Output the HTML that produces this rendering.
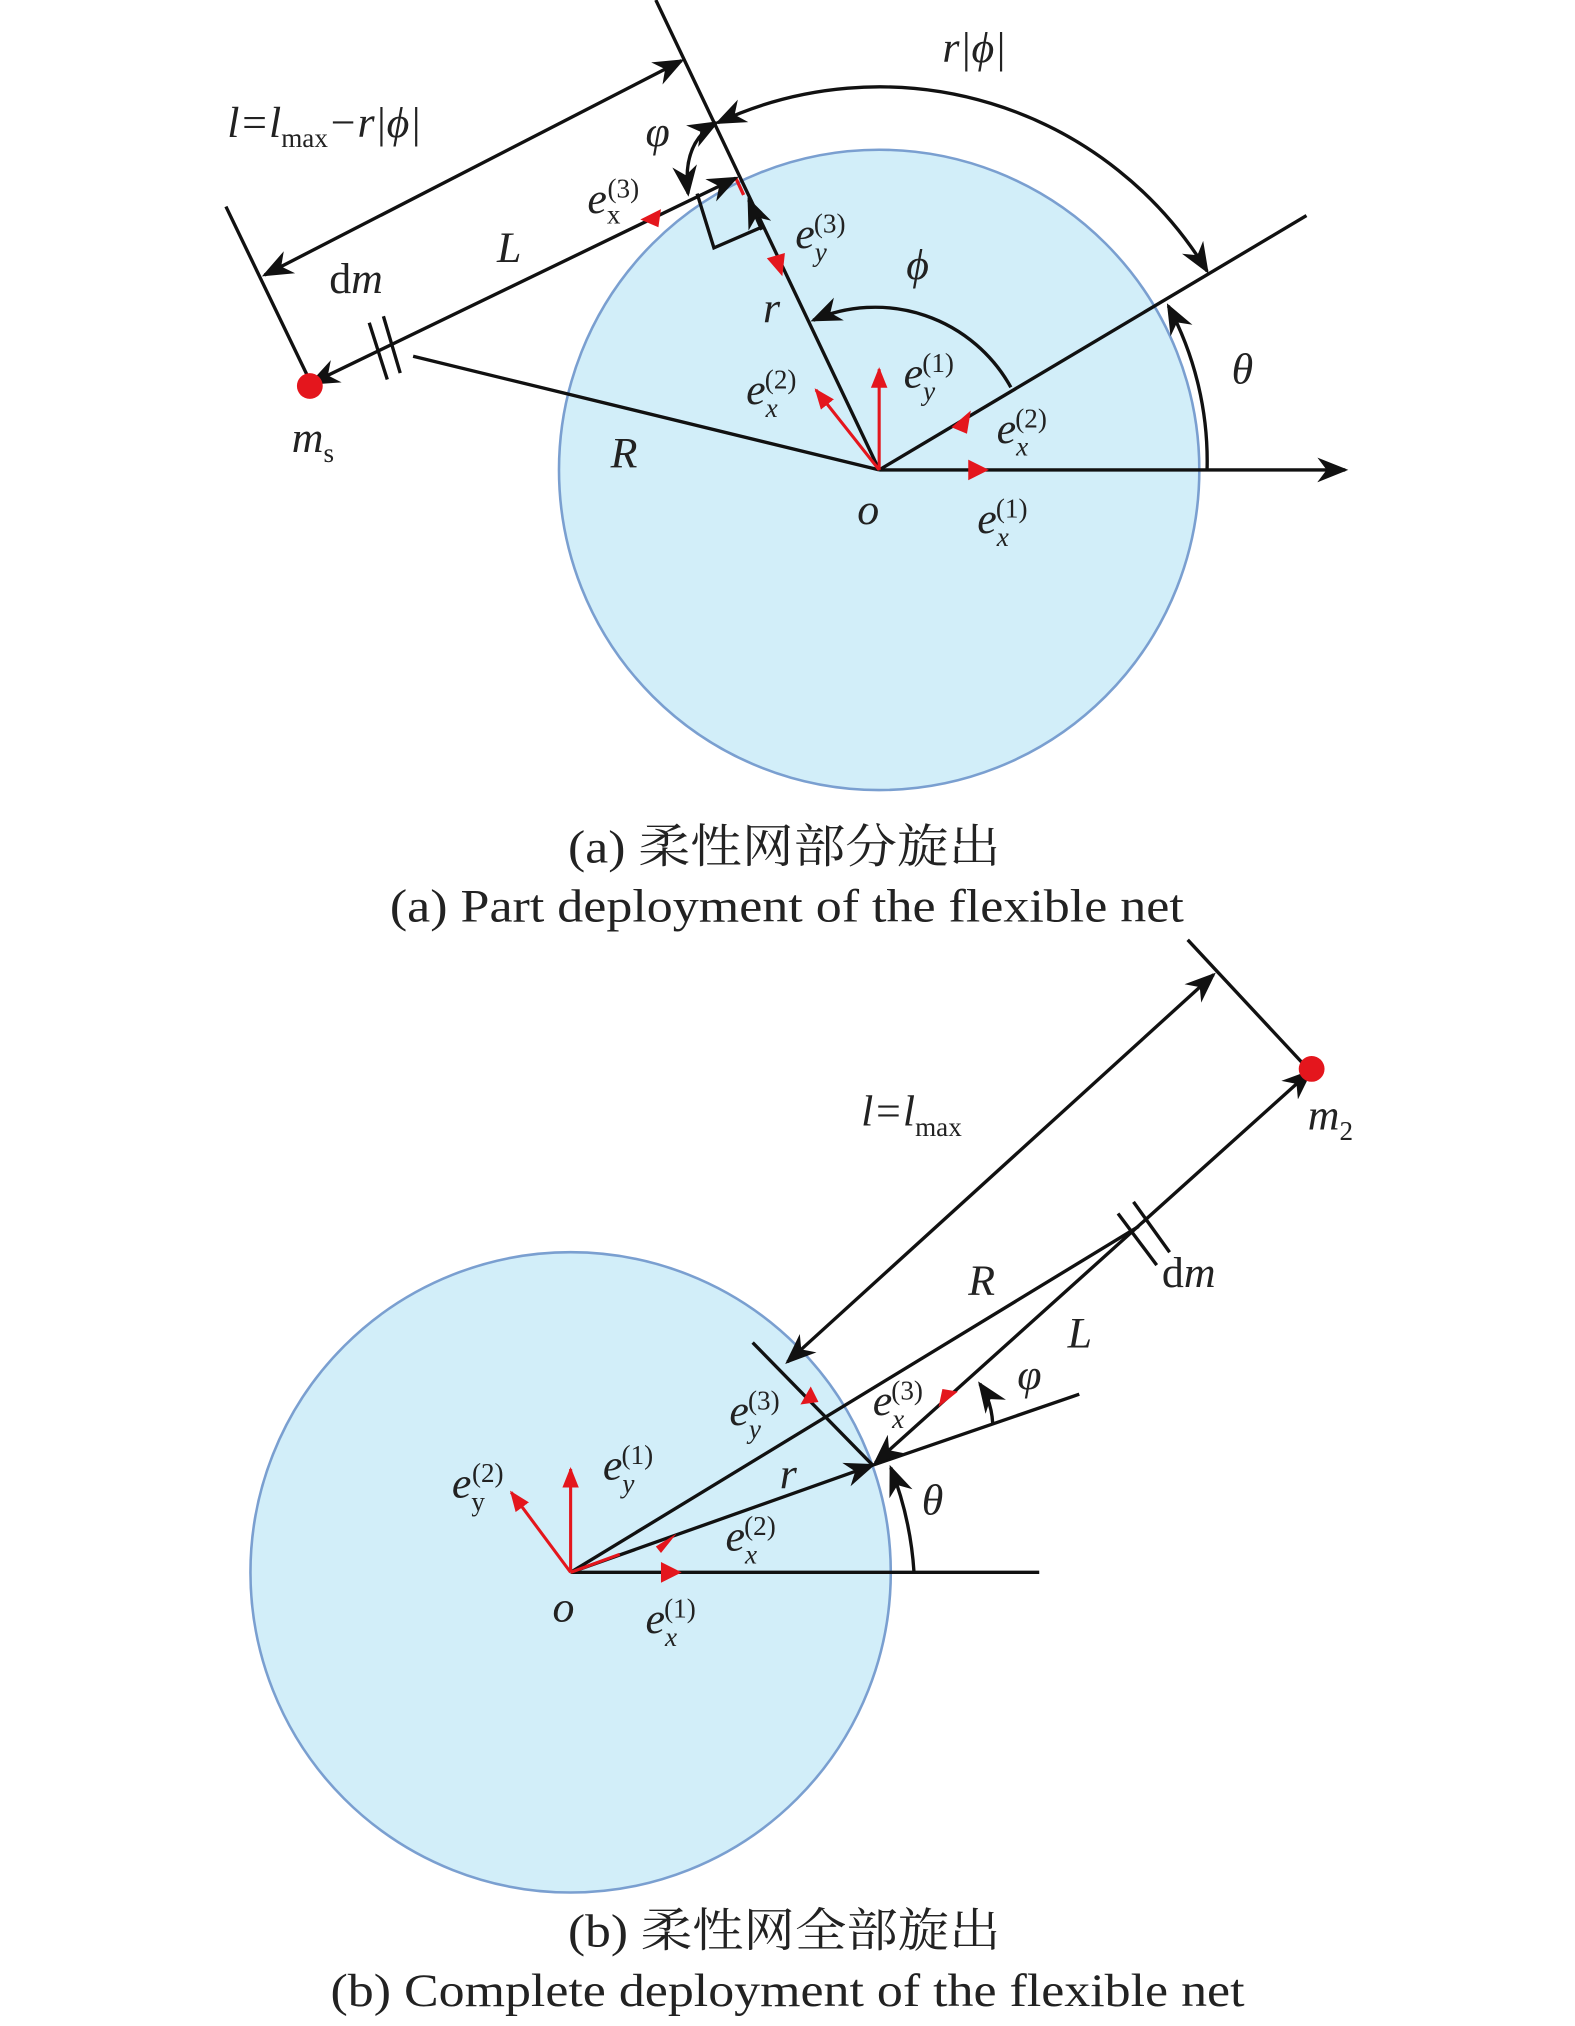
<!DOCTYPE html>
<html><head><meta charset="utf-8"><style>
html,body{margin:0;padding:0;background:#fff;}
svg{display:block;}
text{font-family:"Liberation Serif","Noto Serif CJK SC",serif;fill:#222;}
.i{font-style:italic;}
</style></head><body>
<svg width="1575" height="2026" viewBox="0 0 1220 1569.4" preserveAspectRatio="none" xmlns="http://www.w3.org/2000/svg">
<defs>
<marker id="ab" viewBox="0 0 10 10" refX="9" refY="5" markerWidth="24" markerHeight="24" markerUnits="userSpaceOnUse" orient="auto-start-reverse"><path d="M0,1 L10,5 L0,9 L3,5 z" fill="#111"/></marker>
<marker id="r" viewBox="0 0 10 10" refX="9" refY="5" markerWidth="16" markerHeight="16" markerUnits="userSpaceOnUse" orient="auto"><path d="M0,1 L10,5 L0,9 z" fill="#e4161d"/></marker>
</defs>
<g stroke="#111" stroke-width="2.6" fill="none">
<!-- Part a -->
<circle cx="681" cy="364" r="248" fill="#d2eef9" stroke="#7a9fd0" stroke-width="2"/>
<line x1="681" y1="364" x2="1042" y2="364" marker-end="url(#ab)"/>
<line x1="681" y1="364" x2="1012" y2="167"/>
<line x1="508" y1="0" x2="681" y2="364"/>
<line x1="570" y1="138" x2="576" y2="151" stroke="#e4161d"/>
<line x1="590" y1="178" x2="580" y2="155" marker-end="url(#ab)"/>
<line x1="241" y1="297" x2="570" y2="138" marker-start="url(#ab)" marker-end="url(#ab)"/>
<line x1="320" y1="276" x2="681" y2="364"/>
<line x1="286" y1="250" x2="300" y2="294"/><line x1="297" y1="245" x2="310" y2="289"/>
<line x1="205" y1="213" x2="528" y2="47" marker-start="url(#ab)" marker-end="url(#ab)"/>
<line x1="175" y1="160" x2="241" y2="297"/>
<polyline points="540,150 553,192 590,176"/>
<path d="M935,210 A297,297 0 0 0 556,95" marker-start="url(#ab)" marker-end="url(#ab)"/>
<path d="M555,95 Q528,110 533,150" marker-start="url(#ab)" marker-end="url(#ab)"/>
<path d="M783,300 A120,120 0 0 0 630,248" marker-end="url(#ab)"/>
<path d="M935,364 A255,255 0 0 0 905,237" marker-end="url(#ab)"/>
<!-- Part b -->
<circle cx="442" cy="1218" r="248" fill="#d2eef9" stroke="#7a9fd0" stroke-width="2"/>
<line x1="442" y1="1218" x2="805" y2="1218"/>
<line x1="676" y1="1135" x2="836" y2="1080"/>
<line x1="442" y1="1218" x2="676" y2="1135" marker-end="url(#ab)"/>
<line x1="442" y1="1218" x2="882" y2="950"/>
<line x1="678" y1="1133" x2="1015" y2="830" marker-start="url(#ab)" marker-end="url(#ab)"/>
<line x1="610" y1="1055" x2="940" y2="755" marker-start="url(#ab)" marker-end="url(#ab)"/>
<line x1="583" y1="1040" x2="676" y2="1135"/>
<line x1="920" y1="728" x2="1015" y2="830"/>
<line x1="866" y1="940" x2="896" y2="980"/><line x1="878" y1="931" x2="906" y2="970"/>
<path d="M769,1103 Q768,1085 759,1072" marker-end="url(#ab)"/>
<path d="M708,1218 A268,268 0 0 0 690,1137" marker-end="url(#ab)"/>
</g>
<g stroke="#e4161d" stroke-width="2.4" fill="none">
<line x1="681" y1="364" x2="681" y2="286" marker-end="url(#r)"/>
<line x1="681" y1="364" x2="632" y2="302" marker-end="url(#r)"/>
<line x1="442" y1="1218" x2="442" y2="1138" marker-end="url(#r)"/>
<line x1="442" y1="1218" x2="396" y2="1156" marker-end="url(#r)"/>
<line x1="442" y1="1218" x2="480" y2="1204"/>
</g>
<g fill="#e4161d">
<path d="M750,356 L766,364 L750,372z"/>
<path d="M737,331 L752,318 L749,336z"/>
<path d="M512,162 L496,170 L510,176z"/>
<path d="M594,200 L606,214 L608,196z"/>
<path d="M512,1210 L528,1218 L512,1226z"/>
<path d="M508,1198 L524,1188 L512,1203z"/>
<path d="M620,1088 L628,1074 L634,1086z"/>
<path d="M727,1090 L742,1078 L730,1076z"/>
<circle cx="240" cy="299" r="10"/>
<circle cx="1016" cy="828" r="10"/>
</g>
<!-- labels a -->
<g font-size="34">
<text x="730" y="48" class="i">r|ϕ|</text>
<text x="176" y="106" class="i">l=l<tspan font-style="normal" font-size="21" dy="8">max</tspan><tspan dy="-8">−r|ϕ|</tspan></text>
<text x="500" y="113" class="i">φ</text>
<text x="455" y="165" class="i">e<tspan font-style="normal" font-size="21" dy="8">x</tspan><tspan font-style="normal" font-size="21" dx="-10" dy="-20">(3)</tspan></text>
<text x="385" y="203" class="i">L</text>
<text x="255" y="227">d<tspan class="i">m</tspan></text>
<text x="616" y="192" class="i">e<tspan font-size="21" dy="10">y</tspan><tspan font-style="normal" font-size="21" dx="-10" dy="-22">(3)</tspan></text>
<text x="702" y="216" class="i">ϕ</text>
<text x="591" y="250" class="i">r</text>
<text x="954" y="297" class="i">θ</text>
<text x="578" y="313" class="i">e<tspan font-size="21" dy="10">x</tspan><tspan font-style="normal" font-size="21" dx="-10" dy="-22">(2)</tspan></text>
<text x="700" y="300" class="i">e<tspan font-size="21" dy="10">y</tspan><tspan font-style="normal" font-size="21" dx="-10" dy="-22">(1)</tspan></text>
<text x="772" y="343" class="i">e<tspan font-size="21" dy="10">x</tspan><tspan font-style="normal" font-size="21" dx="-10" dy="-22">(2)</tspan></text>
<text x="226" y="350" class="i">m<tspan font-style="normal" font-size="21" dy="8">s</tspan></text>
<text x="473" y="362" class="i">R</text>
<text x="664" y="406" class="i">o</text>
<text x="757" y="413" class="i">e<tspan font-size="21" dy="10">x</tspan><tspan font-style="normal" font-size="21" dx="-10" dy="-22">(1)</tspan></text>
</g>
<text x="440" y="668" font-size="36" textLength="335" lengthAdjust="spacingAndGlyphs">(a) 柔性网部分旋出</text>
<text x="302" y="714" font-size="36" textLength="615" lengthAdjust="spacingAndGlyphs">(a) Part deployment of the flexible net</text>
<!-- labels b -->
<g font-size="34">
<text x="667" y="872" class="i">l=l<tspan font-style="normal" font-size="21" dy="8">max</tspan></text>
<text x="1013" y="875" class="i">m<tspan font-style="normal" font-size="21" dy="8">2</tspan></text>
<text x="900" y="997">d<tspan class="i">m</tspan></text>
<text x="750" y="1003" class="i">R</text>
<text x="827" y="1044" class="i">L</text>
<text x="788" y="1076" class="i">φ</text>
<text x="676" y="1096" class="i">e<tspan font-size="21" dy="10">x</tspan><tspan font-style="normal" font-size="21" dx="-10" dy="-22">(3)</tspan></text>
<text x="565" y="1104" class="i">e<tspan font-size="21" dy="10">y</tspan><tspan font-style="normal" font-size="21" dx="-10" dy="-22">(3)</tspan></text>
<text x="467" y="1146" class="i">e<tspan font-size="21" dy="10">y</tspan><tspan font-style="normal" font-size="21" dx="-10" dy="-22">(1)</tspan></text>
<text x="350" y="1160" class="i">e<tspan font-style="normal" font-size="21" dy="10">y</tspan><tspan font-style="normal" font-size="21" dx="-10" dy="-22">(2)</tspan></text>
<text x="604" y="1153" class="i">r</text>
<text x="714" y="1173" class="i">θ</text>
<text x="562" y="1201" class="i">e<tspan font-size="21" dy="10">x</tspan><tspan font-style="normal" font-size="21" dx="-10" dy="-22">(2)</tspan></text>
<text x="428" y="1256" class="i">o</text>
<text x="500" y="1265" class="i">e<tspan font-size="21" dy="10">x</tspan><tspan font-style="normal" font-size="21" dx="-10" dy="-22">(1)</tspan></text>
</g>
<text x="440" y="1508" font-size="36" textLength="335" lengthAdjust="spacingAndGlyphs">(b) 柔性网全部旋出</text>
<text x="256" y="1554" font-size="36" textLength="708" lengthAdjust="spacingAndGlyphs">(b) Complete deployment of the flexible net</text>
</svg>
</body></html>
